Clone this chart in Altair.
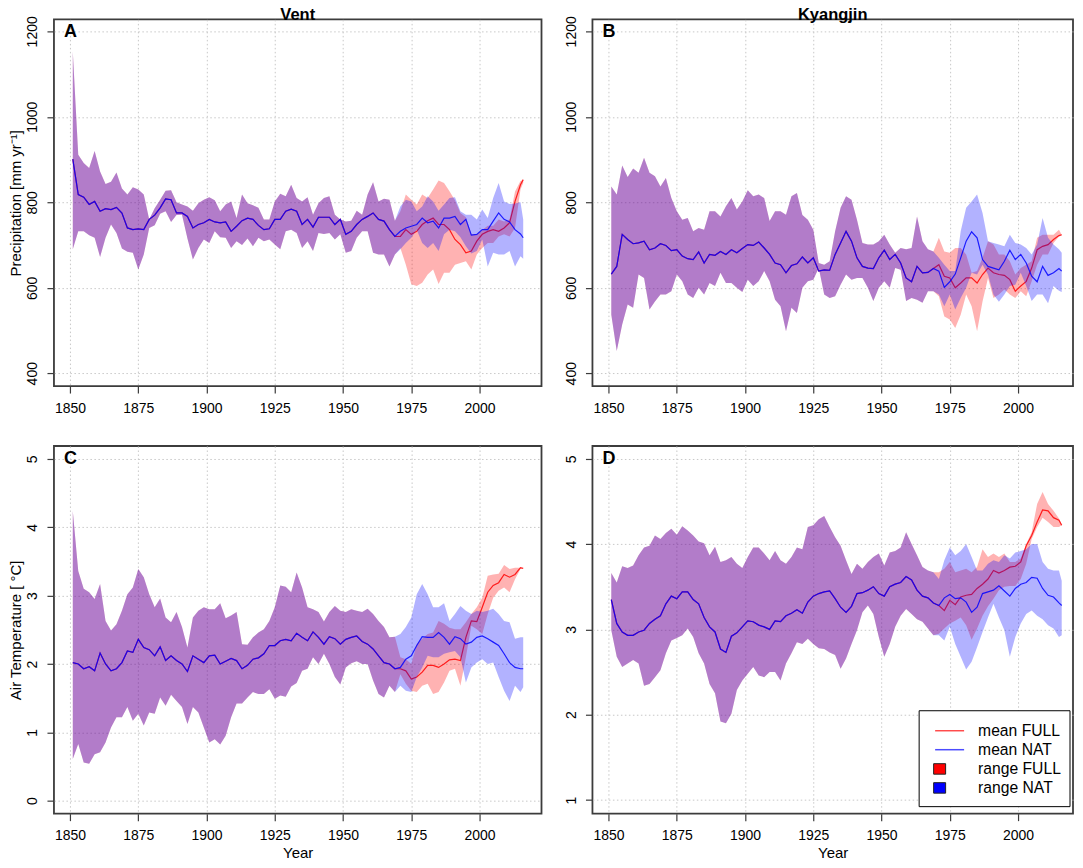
import pandas as pd
import altair as alt

# year grid the values were read on
years = list(range(1851, 2016, 2)) + [2016]
years_full = [y for y in years if y >= 1971]

# Panel A, Vent precipitation
A_low = [690, 732, 732, 723, 717,
         672, 717, 748, 728, 692,
         684, 682, 643, 678, 740,
         746, 773, 779, 754, 770,
         771, 715, 666, 693, 713,
         705, 732, 718, 717, 693,
         709, 700, 715, 697, 717,
         709, 713, 701, 690, 732,
         736, 728, 693, 709, 686,
         728, 726, 728, 713, 725,
         682, 686, 717, 732, 732,
         682, 678, 678, 650, 678,
         690, 705, 717, 736, 705,
         693, 705, 686, 725, 736,
         732, 718, 697, 680, 686,
         713, 650, 682, 678, 678,
         686, 650, 674, 668]
A_high = [1152, 911, 892, 880, 920,
          872, 843, 848, 870, 832,
          818, 835, 830, 818, 760,
          786, 806, 827, 828, 800,
          795, 790, 780, 798, 806,
          812, 805, 779, 795, 802,
          763, 818, 798, 793, 787,
          760, 760, 802, 820, 814,
          841, 810, 802, 812, 771,
          798, 810, 814, 771, 760,
          755, 757, 780, 771, 818,
          847, 802, 808, 806, 757,
          790, 806, 802, 779, 790,
          814, 802, 780, 795, 810,
          812, 779, 771, 771, 760,
          783, 763, 810, 845, 802,
          796, 797, 800, 760]
A_mean = [901, 818, 812, 795, 802,
          779, 785, 783, 788, 775,
          740, 736, 738, 736, 760,
          770, 787, 808, 806, 775,
          775, 767, 740, 748, 752,
          760, 754, 752, 754, 732,
          744, 757, 763, 760, 746,
          736, 738, 760, 760, 779,
          784, 779, 748, 760, 742,
          765, 765, 765, 748, 760,
          725, 732, 748, 760, 767,
          775, 760, 756, 736, 720,
          732, 740, 744, 748, 763,
          752, 756, 740, 763, 763,
          767, 748, 760, 723, 725,
          736, 736, 756, 775, 760,
          754, 736, 726, 717]
A_full_low = [693, 654, 608, 604, 612,
              631, 643, 609, 635, 635,
              654, 658, 662, 643, 678,
              693, 705, 705, 720, 725,
              720, 740, 830, 845]
A_full_high = [779, 818, 806, 795, 818,
               810, 830, 851, 845, 826,
               805, 775, 765, 725, 725,
               735, 745, 745, 760, 755,
               760, 825, 850, 852]
A_full_mean = [720, 736, 725, 732, 748,
               757, 763, 748, 748, 736,
               713, 701, 682, 686, 709,
               725, 732, 736, 732, 740,
               752, 802, 841, 853]

# Panel B, Kyangjin precipitation
B_low = [537, 452, 514, 561, 553,
         631, 623, 549, 568, 584,
         584, 592, 631, 615, 584,
         576, 600, 584, 611, 604,
         635, 611, 611, 600, 590,
         619, 604, 615, 639, 615,
         572, 557, 498, 553, 541,
         600, 615, 619, 646, 584,
         576, 580, 607, 631, 619,
         623, 623, 600, 569, 600,
         615, 600, 646, 642, 569,
         576, 572, 565, 592, 592,
         584, 557, 584, 549, 576,
         600, 635, 631, 654, 631,
         584, 567, 584, 604, 607,
         635, 604, 569, 584, 584,
         564, 604, 593, 590]
B_high = [837, 818, 886, 859, 879,
          869, 904, 869, 861, 837,
          857, 810, 779, 759, 763,
          732, 740, 736, 779, 779,
          767, 791, 810, 783, 802,
          828, 814, 818, 810, 756,
          779, 779, 771, 814, 822,
          770, 759, 736, 658, 654,
          662, 732, 787, 814, 806,
          759, 705, 701, 701, 709,
          724, 701, 682, 693, 690,
          693, 767, 709, 690, 685,
          670, 654, 639, 639, 732,
          787, 802, 818, 775, 709,
          705, 701, 697, 724, 705,
          701, 693, 678, 701, 763,
          717, 701, 690, 682]
B_mean = [632, 650, 725, 713, 703,
          705, 709, 689, 693, 703,
          699, 687, 689, 674, 668,
          666, 684, 658, 678, 676,
          685, 678, 689, 682, 692,
          701, 699, 707, 693, 678,
          658, 654, 635, 652, 656,
          672, 658, 670, 639, 642,
          641, 678, 705, 732, 709,
          670, 650, 646, 645, 670,
          688, 666, 678, 658, 623,
          614, 650, 635, 636, 645,
          639, 601, 614, 632, 670,
          709, 731, 717, 666, 650,
          646, 642, 662, 688, 666,
          678, 658, 627, 614, 650,
          629, 635, 645, 639]
B_full_low = [580, 533, 526, 506, 537,
              584, 557, 498, 568, 623,
              576, 584, 596, 584, 576,
              592, 580, 615, 654, 678,
              678, 705, 720, 723]
B_full_high = [717, 685, 682, 693, 693,
               678, 635, 639, 670, 709,
               701, 678, 678, 662, 631,
               646, 654, 662, 717, 724,
               724, 724, 736, 724]
B_full_mean = [654, 627, 623, 600, 611,
               623, 623, 611, 631, 646,
               635, 631, 629, 619, 592,
               604, 615, 646, 689, 697,
               701, 713, 722, 724]

# Panel C, Vent air temperature
C_low = [0.61, 0.83, 0.56, 0.54, 0.68,
         0.71, 0.85, 1.07, 1.22, 1.22,
         1.37, 1.17, 1.27, 1.10, 1.29,
         1.27, 1.51, 1.39, 1.55, 1.46,
         1.37, 1.12, 1.37, 1.29, 1.07,
         0.85, 0.90, 0.82, 0.95, 1.22,
         1.42, 1.42, 1.51, 1.59, 1.56,
         1.56, 1.63, 1.49, 1.54, 1.52,
         1.67, 1.72, 1.90, 1.93, 2.10,
         2.00, 2.15, 2.00, 1.81, 1.70,
         1.95, 2.01, 2.04, 2.00, 2.00,
         1.76, 1.56, 1.51, 1.68, 1.59,
         1.68, 1.61, 1.59, 1.81, 1.95,
         2.12, 2.10, 2.10, 2.15, 2.17,
         2.19, 2.10, 1.73, 1.95, 2.02,
         2.07, 2.00, 2.02, 1.81, 1.61,
         1.46, 1.68, 1.59, 1.66]
C_high = [4.24, 3.36, 3.10, 3.05, 2.95,
          3.17, 2.63, 2.49, 2.58, 2.78,
          3.02, 3.12, 3.39, 3.27, 3.02,
          2.83, 2.96, 2.68, 2.61, 2.76,
          2.54, 2.24, 2.68, 2.78, 2.83,
          2.80, 2.80, 2.89, 2.67, 2.71,
          2.76, 2.29, 2.28, 2.39, 2.46,
          2.51, 2.63, 2.83, 3.15, 3.13,
          3.05, 3.34, 3.12, 2.83, 2.80,
          2.76, 2.62, 2.76, 2.85, 2.78,
          2.76, 2.80, 2.78, 2.76, 2.81,
          2.73, 2.63, 2.54, 2.39, 2.40,
          2.44, 2.54, 2.68, 3.02, 3.17,
          3.02, 2.83, 2.83, 2.89, 2.63,
          2.73, 2.85, 2.78, 2.73, 2.78,
          2.76, 2.78, 2.81, 2.73, 2.63,
          2.61, 2.37, 2.39, 2.39]
C_mean = [2.02, 2.00, 1.93, 1.96, 1.90,
          2.16, 2.00, 1.90, 1.93, 2.02,
          2.19, 2.17, 2.36, 2.24, 2.21,
          2.12, 2.25, 2.05, 2.12, 2.05,
          2.00, 1.89, 2.12, 2.07, 2.02,
          2.12, 2.13, 2.00, 2.04, 2.08,
          2.05, 1.93, 1.98, 2.07, 2.09,
          2.15, 2.27, 2.27, 2.34, 2.36,
          2.34, 2.45, 2.39, 2.34, 2.47,
          2.39, 2.29, 2.40, 2.37, 2.29,
          2.36, 2.39, 2.41, 2.33, 2.29,
          2.22, 2.12, 2.02, 2.00, 1.93,
          1.95, 2.07, 2.12, 2.27, 2.40,
          2.39, 2.39, 2.46, 2.39, 2.29,
          2.40, 2.37, 2.29, 2.32, 2.39,
          2.41, 2.37, 2.32, 2.27, 2.15,
          2.02, 1.95, 1.93, 1.93]
C_full_low = [1.85, 1.71, 1.61, 1.59, 1.68,
              1.71, 1.56, 1.59, 1.73, 1.90,
              1.93, 1.68, 2.10, 2.56, 2.51,
              2.44, 2.73, 2.97, 3.07, 3.12,
              3.05, 3.24, 3.39, 3.40]
C_full_high = [2.10, 2.07, 2.00, 2.29, 2.37,
               2.44, 2.46, 2.63, 2.59, 2.53,
               2.51, 2.51, 2.61, 2.73, 2.83,
               2.97, 3.29, 3.31, 3.32, 3.45,
               3.39, 3.41, 3.41, 3.40]
C_full_mean = [1.93, 1.90, 1.78, 1.81, 1.88,
               1.98, 1.98, 1.95, 2.00, 2.06,
               2.07, 2.05, 2.39, 2.63, 2.62,
               2.83, 3.05, 3.15, 3.19, 3.31,
               3.27, 3.31, 3.41, 3.40]

# Panel D, Kyangjin air temperature
D_low = [2.99, 2.68, 2.56, 2.60, 2.64,
         2.60, 2.34, 2.36, 2.44, 2.52,
         2.72, 2.87, 2.90, 2.93, 3.01,
         2.91, 2.72, 2.60, 2.36, 2.25,
         1.92, 1.90, 2.01, 2.29, 2.40,
         2.48, 2.56, 2.46, 2.44, 2.50,
         2.50, 2.40, 2.60, 2.72, 2.85,
         2.83, 2.89, 2.83, 2.78, 2.77,
         2.73, 2.70, 2.54, 2.66, 2.83,
         2.99, 3.20, 3.28, 3.18, 2.91,
         2.68, 2.83, 3.03, 3.16, 3.24,
         3.18, 3.12, 3.09, 3.01, 2.93,
         2.93, 2.87, 3.03, 2.83, 2.68,
         2.53, 2.62, 2.79, 2.97, 3.14,
         3.30, 3.14, 2.99, 2.68, 2.91,
         3.07, 3.18, 3.22, 3.16, 3.12,
         3.05, 3.01, 2.91, 2.93]
D_high = [3.66, 3.55, 3.74, 3.72, 3.75,
          3.87, 3.96, 3.98, 4.10, 4.06,
          4.13, 4.18, 4.11, 4.21, 4.16,
          4.10, 4.03, 4.01, 3.87, 3.97,
          3.79, 3.81, 3.85, 3.77, 3.72,
          3.85, 3.96, 3.96, 3.89, 3.81,
          3.92, 3.81, 3.77, 3.85, 3.96,
          3.94, 4.20, 4.22, 4.29, 4.33,
          4.20, 4.08, 3.98, 3.81, 3.65,
          3.77, 3.71, 3.79, 3.85, 3.89,
          3.75, 3.90, 3.92, 3.96, 4.14,
          4.00, 3.87, 3.73, 3.69, 3.67,
          3.59, 3.81, 3.96, 3.87, 3.92,
          4.00, 3.85, 3.69, 3.69, 3.77,
          3.81, 3.79, 3.87, 3.83, 3.90,
          3.92, 3.94, 4.00, 4.00, 3.79,
          3.71, 3.69, 3.69, 3.57]
D_mean = [3.35, 3.07, 2.97, 2.93, 2.93,
          2.97, 2.99, 3.07, 3.12, 3.16,
          3.30, 3.39, 3.36, 3.44, 3.44,
          3.35, 3.30, 3.14, 3.03, 2.97,
          2.77, 2.73, 2.92, 2.96, 3.03,
          3.10, 3.09, 3.05, 3.03, 3.00,
          3.10, 3.09, 3.16, 3.19, 3.23,
          3.19, 3.32, 3.39, 3.42, 3.44,
          3.45, 3.36, 3.26, 3.20, 3.27,
          3.42, 3.43, 3.46, 3.50, 3.42,
          3.39, 3.50, 3.53, 3.55, 3.62,
          3.58, 3.46, 3.39, 3.37, 3.31,
          3.28, 3.37, 3.41, 3.36, 3.37,
          3.32, 3.20, 3.26, 3.42, 3.44,
          3.46, 3.51, 3.45, 3.39, 3.48,
          3.53, 3.55, 3.61, 3.60, 3.48,
          3.40, 3.38, 3.31, 3.28]
D_full_low = [2.95, 3.01, 3.07, 3.10, 3.14,
              3.05, 2.88, 3.01, 3.16, 3.27,
              3.36, 3.46, 3.50, 3.51, 3.51,
              3.59, 3.77, 4.06, 4.20, 4.31,
              4.26, 4.20, 4.20, 4.22]
D_full_high = [3.67, 3.71, 3.79, 3.67, 3.69,
               3.71, 3.67, 3.73, 3.94, 3.85,
               3.89, 3.85, 3.89, 3.79, 3.79,
               3.83, 4.00, 4.14, 4.47, 4.61,
               4.47, 4.39, 4.30, 4.23]
D_full_mean = [3.28, 3.22, 3.34, 3.29, 3.38,
               3.40, 3.41, 3.48, 3.53, 3.59,
               3.69, 3.66, 3.69, 3.73, 3.74,
               3.79, 3.98, 4.10, 4.26, 4.40,
               4.39, 4.31, 4.28, 4.22]

x_ticks = [1850, 1875, 1900, 1925, 1950, 1975, 2000]
precip_ticks = [400, 600, 800, 1000, 1200]

FONT = 'Liberation Sans'
FRAME = '#3c3c3c'
PANEL_H = 368
LEFT_W = 488
RIGHT_W = 481
LEFT_X = [1844.1, 2022.7]
RIGHT_X = [1844.1, 2020.14]  # same px per year, the page has no room for more


def panel(letter, low, high, mean, full_low, full_high, full_mean,
          x_domain, width, y_domain, y_ticks, y_title=None, x_title=None, title=None,
          height=PANEL_H, extra=None):
    # the FULL runs share the NAT range until 1970
    n = len(years) - len(years_full)
    nat = pd.DataFrame({'year': years, 'low': low, 'high': high, 'mean': mean})
    full = pd.DataFrame({'year': years,
                         'low': low[:n] + full_low,
                         'high': high[:n] + full_high,
                         'mean': mean[:n] + full_mean})

    x = alt.X('year:Q',
              title=x_title,
              scale=alt.Scale(domain=x_domain, nice=False, zero=False),
              axis=alt.Axis(values=x_ticks, format='d', labelFlush=False,
                            labelPadding=8, titlePadding=3))
    y_axis = alt.Axis(values=y_ticks, format='d', labelAngle=270,
                      labelPadding=7, labelBaseline='bottom', labelAlign='center',
                      titlePadding=2)
    y_scale = alt.Scale(domain=y_domain, nice=False, zero=False)
    y_low = alt.Y('low:Q', title=y_title, scale=y_scale, axis=y_axis)
    y_mean = alt.Y('mean:Q', title=y_title, scale=y_scale, axis=y_axis)

    layers = [
        alt.Chart(full).mark_area(color='red', opacity=0.3).encode(x=x, y=y_low, y2='high:Q'),
        alt.Chart(full).mark_line(color='red', opacity=0.85, strokeWidth=1.2).encode(x=x, y=y_mean),
        alt.Chart(nat).mark_area(color='blue', opacity=0.3).encode(x=x, y=y_low, y2='high:Q'),
        alt.Chart(nat).mark_line(color='blue', opacity=0.85, strokeWidth=1.2).encode(x=x, y=y_mean),
        alt.Chart(nat.head(1)).mark_text(
            fontSize=18, fontWeight='bold', align='left', baseline='middle', font=FONT, color='black'
        ).encode(x=alt.value(10), y=alt.value(13), text=alt.value(letter)),
    ]
    if extra:
        layers += extra

    chart = alt.layer(*layers).properties(width=width, height=height)
    if title:
        chart = chart.properties(title=alt.TitleParams(
            text=title, fontSize=16.5, fontWeight='bold', font=FONT, color='black', offset=-8))
    return chart


def legend_layers():
    dummy = pd.DataFrame({'a': [0]})
    base = alt.Chart(dummy)
    rows = [(285, 'mean FULL'), (304, 'mean NAT'), (323.5, 'range FULL'), (342, 'range NAT')]
    out = [
        base.mark_rect(fill='white', stroke='black', strokeWidth=1).encode(
            x=alt.value(327), x2=alt.value(478), y=alt.value(265), y2=alt.value(361)),
        base.mark_rule(color='red', opacity=0.7, strokeWidth=1.5).encode(
            x=alt.value(343), x2=alt.value(372), y=alt.value(285)),
        base.mark_rule(color='blue', opacity=0.7, strokeWidth=1.5).encode(
            x=alt.value(343), x2=alt.value(372), y=alt.value(304)),
        base.mark_rect(fill='red', stroke='#222222', strokeWidth=1).encode(
            x=alt.value(341.5), x2=alt.value(353.5), y=alt.value(318), y2=alt.value(328.5)),
        base.mark_rect(fill='blue', stroke='#222222', strokeWidth=1).encode(
            x=alt.value(341.5), x2=alt.value(353.5), y=alt.value(337), y2=alt.value(347.5)),
    ]
    for ypos, label in rows:
        out.append(base.mark_text(fontSize=15.7, align='left', baseline='middle', font=FONT, color='black').encode(
            x=alt.value(386), y=alt.value(ypos), text=alt.value(label)))
    return out


a = panel('A', A_low, A_high, A_mean, A_full_low, A_full_high, A_full_mean, LEFT_X, LEFT_W,
          [370, 1228], precip_ticks, y_title='Precipitation [mm yr⁻¹]', title='Vent', height=367)
b = panel('B', B_low, B_high, B_mean, B_full_low, B_full_high, B_full_mean, RIGHT_X, RIGHT_W,
          [370, 1228], precip_ticks, title='Kyangjin', height=367)
c = panel('C', C_low, C_high, C_mean, C_full_low, C_full_high, C_full_mean, LEFT_X, LEFT_W,
          [-0.19, 5.19], [0, 1, 2, 3, 4, 5], y_title='Air Temperature [ °C]', x_title='Year')
d = panel('D', D_low, D_high, D_mean, D_full_low, D_full_high, D_full_mean, RIGHT_X, RIGHT_W,
          [0.84, 5.15], [1, 2, 3, 4, 5], x_title='Year', extra=legend_layers())

chart = alt.concat(a, b, c, d, columns=2, spacing={'row': 60, 'column': 51}, bounds='flush').properties(
    padding={'left': 0, 'top': -2, 'right': 1, 'bottom': 0}
).configure_view(
    stroke=FRAME, strokeWidth=1.8
).configure_axis(
    domain=False,
    grid=True,
    gridColor='#c8c8c8',
    gridDash=[1.5, 2.5],
    gridWidth=1,
    tickColor=FRAME,
    tickSize=7,
    tickWidth=1.2,
    labelFont=FONT,
    labelFontSize=14,
    labelColor='black',
    titleFont=FONT,
    titleFontSize=15,
    titleFontWeight='normal',
    titleColor='black',
)

chart.save("out.html", embed_options={"renderer": "svg", "actions": False})
